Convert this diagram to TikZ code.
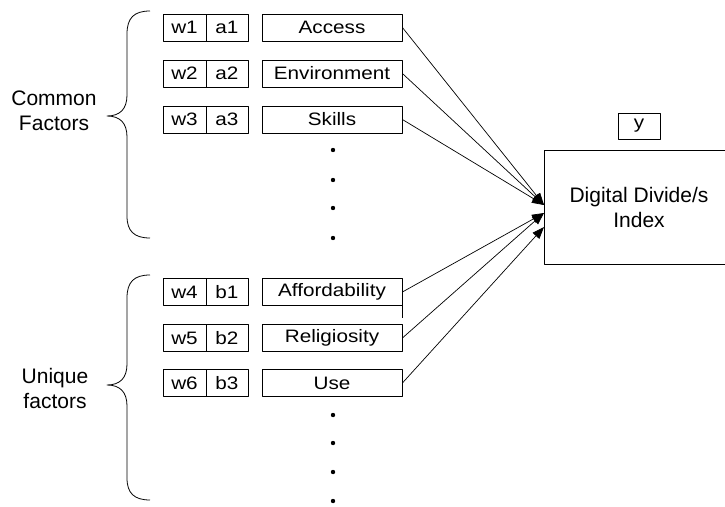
\documentclass[tikz,border=0pt]{standalone}
\usepackage{fontspec}
\setmainfont{Liberation Sans}
\newfontfamily\cellfont[FakeStretch=1.15]{Liberation Sans}
\usetikzlibrary{arrows.meta}
\begin{document}
\begin{tikzpicture}[x=1pt,y=-1pt,line join=round,
  every node/.style={font=\fontsize{21}{25}\selectfont},
  cell/.style={draw,line width=0.8pt,minimum height=27pt,inner sep=0pt,font=\cellfont\fontsize{18}{20}\selectfont},
  wcell/.style={cell,minimum width=43pt},
  acell/.style={cell,minimum width=42pt},
  factor/.style={cell,minimum width=140pt},
  feed/.style={line width=0.7pt,-{Triangle[length=12pt,width=9pt]}},
  curly/.style={line width=0.8pt}]
  \useasboundingbox (0,0) rectangle (725,506); \clip (0,0) rectangle (725,506);
  % index
  \node[draw,line width=0.8pt,minimum width=190pt,minimum height=114pt,align=center] (idx) at (639,207) {Digital Divide/s\\Index};
  \node[cell,minimum width=42pt,minimum height=26pt] (y) at (639,126) {y};
  \coordinate (t1) at (544,205); \coordinate (t2) at (544,213); \coordinate (t3) at (544,227);
  % common factors
  \node[wcell] (w1) at (184.5,27.5) {w1}; \node[acell] (a1) at (227,27.5) {a1}; \node[factor] (acc) at (332,27.5) {Access};
  \node[wcell] (w2) at (184.5,73.5) {w2}; \node[acell] (a2) at (227,73.5) {a2}; \node[factor] (env) at (332,73.5) {Environment};
  \node[wcell] (w3) at (184.5,119.5) {w3}; \node[acell] (a3) at (227,119.5) {a3}; \node[factor] (ski) at (332,119.5) {Skills};
  % unique factors
  \node[wcell] (w4) at (184.5,292) {w4}; \node[acell] (b1) at (227,292) {b1}; \node[factor] (aff) at (332,292) {Affordability};
  \node[wcell] (w5) at (184.5,338) {w5}; \node[acell] (b2) at (227,338) {b2}; \node[factor] (rel) at (332,338) {Religiosity};
  \node[wcell] (w6) at (184.5,383) {w6}; \node[acell] (b3) at (227,383) {b3}; \node[factor] (use) at (332,383) {Use};
  \foreach \yy in {150,180,208,238,415,443,472,501} \fill (333,\yy) circle (2.2pt);
  % braces
  \draw[curly] (150,11) .. controls (134,11) and (127,18) .. (127,34) -- (127,95) .. controls (127,109) and (120,116) .. (107,116) .. controls (120,116) and (127,123) .. (127,137) -- (127,216) .. controls (127,231) and (134,238) .. (150,238);
  \draw[curly] (150,275) .. controls (134,275) and (127,282) .. (127,298) -- (127,364) .. controls (127,378) and (120,385) .. (107,385) .. controls (120,385) and (127,392) .. (127,406) -- (127,478) .. controls (127,493) and (134,500) .. (150,500);
  \node[align=center] (cf) at (54,111) {Common\\Factors};
  \node[align=center] (uf) at (55,388) {Unique\\factors};
  % arrows
  \draw[feed] (acc.east) -- (t1); \draw[feed] (env.east) -- (t1); \draw[feed] (ski.east) -- (t1);
  \draw[feed] (aff.east) -- (t2); \draw[feed] (rel.east) -- (t2); \draw[feed] (use.east) -- (t3);
  \draw[line width=0.7pt] (aff.east) -- ++(0,26);
\end{tikzpicture}
\end{document}
